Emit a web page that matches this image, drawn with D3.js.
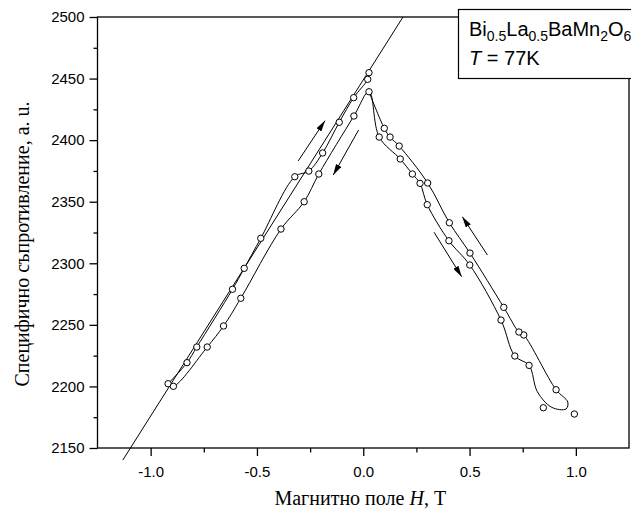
<!DOCTYPE html>
<html>
  <head>
    <meta charset="UTF-8" />
    <style>
      body {
        margin: 0;
        background: #fff;
      }
      .tick-label {
        font-family: "Liberation Sans", Arial, sans-serif;
        font-size: 15px;
      }
      .title {
        font-family: "Liberation Serif", "Times New Roman", serif;
        font-size: 20px;
      }
      .legend {
        font-family: "Liberation Sans", Arial, sans-serif;
        font-size: 20px;
      }
      .branch {
        fill: none;
        stroke: #000;
        stroke-width: 1px;
      }
      .pt {
        fill: #fff;
        stroke: #000;
        stroke-width: 1px;
      }
    </style>
    <script src="https://d3js.org/d3.v7.min.js"></script>
  </head>
  <body>
    <svg width="631" height="515"></svg>
    <script>
      // upper left branch, H from -1 up to 0
      var upLeftH = [-0.918, -0.829, -0.783, -0.615, -0.56, -0.482, -0.322, -0.256, -0.191, -0.113, -0.045, 0.021, 0.027];
      var upLeftR = [2202.2, 2219.3, 2232.0, 2278.9, 2295.9, 2320.3, 2370.3, 2374.9, 2389.6, 2414.5, 2434.5, 2449.4, 2454.8];

      // lower left branch (listed from -1 towards 0)
      var lowLeftH = [-0.918, -0.893, -0.734, -0.657, -0.576, -0.387, -0.278, -0.209, -0.044, 0.027];
      var lowLeftR = [2202.2, 2200.1, 2232.0, 2249.1, 2271.6, 2327.8, 2350.0, 2372.5, 2419.6, 2439.3];

      // right side, H going 0 -> 1
      var rightDownH = [0.027, 0.075, 0.174, 0.231, 0.267, 0.301, 0.403, 0.501, 0.648, 0.713, 0.78];
      var rightDownR = [2439.3, 2402.5, 2384.7, 2372.5, 2364.9, 2347.6, 2318.3, 2298.6, 2253.9, 2224.7, 2217.1];

      // turn of the curve near 1 T
      var turnH = [0.819, 0.887, 0.954, 0.962];
      var turnR = [2195.7, 2183.0, 2181.7, 2187.3];

      // right side, H going 1 -> 0
      var rightUpH = [0.907, 0.755, 0.732, 0.661, 0.502, 0.405, 0.303, 0.169, 0.126, 0.099, 0.027];
      var rightUpR = [2197.3, 2241.8, 2244.2, 2264.2, 2308.3, 2332.9, 2365.2, 2395.2, 2402.5, 2409.6, 2439.3];

      // points not on the curve
      var looseH = [0.847, 0.993];
      var looseR = [2182.7, 2177.6];

      // straight line
      var fitH = [-1.131, 0.187];
      var fitR = [2140.2, 2500];

      // arrows: [H start, R start, H end, R end]
      var arrows = [
        [-0.306, 2383.1, -0.18, 2415.8],
        [-0.022, 2408.2, -0.141, 2371.7],
        [0.333, 2325.2, 0.463, 2289.1],
        [0.584, 2306.7, 0.466, 2337.8],
      ];

      var xTicks = [-1.0, -0.5, 0.0, 0.5, 1.0];
      var xMinor = [-0.75, -0.25, 0.25, 0.75];
      var yTicks = [2150, 2200, 2250, 2300, 2350, 2400, 2450, 2500];
      var yMinor = [2175, 2225, 2275, 2325, 2375, 2425, 2475];

      var svg = d3.select("svg");
      var plotL = 97.5, plotR = 629, plotT = 17, plotB = 448;

      var x = d3.scaleLinear().domain([-1.25, 1.25]).range([plotL, plotR]);
      var y = d3.scaleLinear().domain([2150, 2500]).range([plotB, plotT]);

      var zip = (hs, rs) => hs.map((h, i) => [h, rs[i]]);
      var fmtX = (d) => d.toFixed(1);

      svg
        .append("defs")
        .append("marker")
        .attr("id", "head")
        .attr("markerUnits", "userSpaceOnUse")
        .attr("viewBox", "0 0 11 6")
        .attr("markerWidth", 11)
        .attr("markerHeight", 6)
        .attr("refX", 11)
        .attr("refY", 3)
        .attr("orient", "auto")
        .append("path")
        .attr("d", "M0,0L11,3L0,6z")
        .attr("fill", "#000");

      // frame
      svg
        .append("rect")
        .attr("x", plotL)
        .attr("y", plotT)
        .attr("width", plotR - plotL)
        .attr("height", plotB - plotT)
        .attr("fill", "none")
        .attr("stroke", "#000")
        .attr("stroke-width", 1.3);

      var gx = svg
        .append("g")
        .attr("transform", "translate(0," + plotB + ")")
        .call(d3.axisBottom(x).tickValues(xTicks).tickSize(8).tickFormat(fmtX));
      gx.select(".domain").remove();
      gx.selectAll("line").attr("stroke-width", 1.3);
      gx.selectAll("text").attr("class", "tick-label").attr("y", 29).attr("dy", null).attr("fill", "#000");
      svg
        .append("g")
        .attr("transform", "translate(0," + plotB + ")")
        .call(d3.axisBottom(x).tickValues(xMinor).tickSize(4.5).tickFormat(""))
        .call((g) => g.select(".domain").remove())
        .selectAll("line")
        .attr("stroke-width", 1.3);

      var gy = svg
        .append("g")
        .attr("transform", "translate(" + plotL + ",0)")
        .call(d3.axisLeft(y).tickValues(yTicks).tickSize(8).tickFormat(d3.format("d")));
      gy.select(".domain").remove();
      gy.selectAll("line").attr("stroke-width", 1.3);
      gy.selectAll("text").attr("class", "tick-label").attr("x", -13).attr("fill", "#000");
      svg
        .append("g")
        .attr("transform", "translate(" + plotL + ",0)")
        .call(d3.axisLeft(y).tickValues(yMinor).tickSize(4).tickFormat(""))
        .call((g) => g.select(".domain").remove())
        .selectAll("line")
        .attr("stroke-width", 1.3);

      var line = d3
        .line()
        .x((d) => x(d[0]))
        .y((d) => y(d[1]))
        .curve(d3.curveCatmullRom.alpha(0.5));

      var mainLoop = zip(lowLeftH, lowLeftR)
        .concat(zip(rightDownH, rightDownR).slice(1))
        .concat(zip(turnH, turnR))
        .concat(zip(rightUpH, rightUpR));

      svg.append("path").attr("class", "branch").attr("d", line(mainLoop));
      svg.append("path").attr("class", "branch").attr("d", line(zip(upLeftH, upLeftR)));

      svg
        .append("path")
        .attr("class", "branch")
        .attr("d", d3.line().x((d) => x(d[0])).y((d) => y(d[1]))(zip(fitH, fitR)));

      svg
        .selectAll(".arrow")
        .data(arrows)
        .enter()
        .append("line")
        .attr("class", "arrow")
        .attr("x1", (d) => x(d[0]))
        .attr("y1", (d) => y(d[1]))
        .attr("x2", (d) => x(d[2]))
        .attr("y2", (d) => y(d[3]))
        .attr("stroke", "#000")
        .attr("stroke-width", 1)
        .attr("marker-end", "url(#head)");

      var points = zip(upLeftH, upLeftR)
        .concat(zip(lowLeftH, lowLeftR).slice(1))
        .concat(zip(rightDownH, rightDownR).slice(1))
        .concat(zip(rightUpH, rightUpR).slice(0, -1))
        .concat(zip(looseH, looseR));

      svg
        .selectAll("circle.pt")
        .data(points)
        .enter()
        .append("circle")
        .attr("class", "pt")
        .attr("cx", (d) => x(d[0]))
        .attr("cy", (d) => y(d[1]))
        .attr("r", 3.2);

      // axis titles
      var xt = svg
        .append("text")
        .attr("class", "title")
        .attr("x", (plotL + plotR) / 2 - 3)
        .attr("y", 505)
        .attr("text-anchor", "middle");
      xt.append("tspan").text("Магнитно поле ");
      xt.append("tspan").attr("font-style", "italic").text("H");
      xt.append("tspan").text(", Т");

      svg
        .append("text")
        .attr("class", "title")
        .attr("transform", "translate(29,244) rotate(-90)")
        .attr("text-anchor", "middle")
        .text("Специфично съпротивление, а. u.");

      // legend
      svg
        .append("rect")
        .attr("x", 458.5)
        .attr("y", 9.5)
        .attr("width", 200)
        .attr("height", 69)
        .attr("fill", "#fff")
        .attr("stroke", "#000")
        .attr("stroke-width", 1.2);

      var formula = [
        ["Bi", false],
        ["0.5", true],
        ["La", false],
        ["0.5", true],
        ["BaMn", false],
        ["2", true],
        ["O", false],
        ["6", true],
      ];
      var lt = svg.append("text").attr("class", "legend").attr("x", 469).attr("y", 36);
      formula.forEach((f, i) => {
        var prevSub = i > 0 && formula[i - 1][1];
        lt.append("tspan")
          .attr("font-size", f[1] ? "14px" : null)
          .attr("dy", f[1] ? 5 : prevSub ? -5 : null)
          .text(f[0]);
      });
      var lt2 = svg.append("text").attr("class", "legend").attr("x", 469).attr("y", 65);
      lt2.append("tspan").attr("font-style", "italic").text("T");
      lt2.append("tspan").text(" = 77K");
    </script>
</body>
</html>
